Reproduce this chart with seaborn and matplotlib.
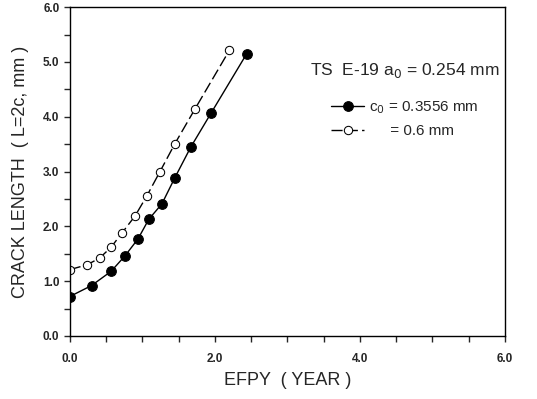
import pandas as pd
import seaborn as sns
import matplotlib.pyplot as plt
from matplotlib.ticker import MultipleLocator

# data
efpy_a = [0.0, 0.30, 0.57, 0.76, 0.94, 1.09, 1.27, 1.45, 1.67, 1.95, 2.44]
crack_a = [0.72, 0.92, 1.18, 1.46, 1.77, 2.13, 2.41, 2.89, 3.45, 4.07, 5.15]
efpy_b = [0.0, 0.24, 0.41, 0.57, 0.72, 0.90, 1.06, 1.24, 1.45, 1.73, 2.20]
crack_b = [1.21, 1.30, 1.42, 1.62, 1.88, 2.19, 2.55, 2.99, 3.51, 4.15, 5.21]
lab_a = "c$_0$ = 0.3556 mm"
lab_b = "     = 0.6 mm"

df_a = pd.DataFrame({'x': efpy_a, 'y': crack_a})
df_b = pd.DataFrame({'x': efpy_b, 'y': crack_b})

sns.set_style('ticks')
plt.rcParams['font.family'] = ['Liberation Sans', 'DejaVu Sans']

fig = plt.figure(figsize=(5.37, 3.99), dpi=100)
ax = fig.add_axes([0.130, 0.158, 0.810, 0.824])

sns.lineplot(data=df_a, x='x', y='y', ax=ax, color='black', lw=1.0,
             marker='o', markersize=7, markerfacecolor='black',
             markeredgecolor='black', label=lab_a)
sns.lineplot(data=df_b, x='x', y='y', ax=ax, color='black', lw=1.0,
             marker='o', markersize=6, markerfacecolor='white',
             markeredgecolor='black', label=lab_b)
ax.lines[1].set_dashes([8, 3])

ax.set_xlim(0, 6)
ax.set_ylim(0, 6)
ax.xaxis.set_major_locator(MultipleLocator(2))
ax.xaxis.set_minor_locator(MultipleLocator(0.5))
ax.yaxis.set_major_locator(MultipleLocator(1))
ax.yaxis.set_minor_locator(MultipleLocator(0.5))
ax.xaxis.set_major_formatter(lambda v, p: f"{v:.1f}")
ax.yaxis.set_major_formatter(lambda v, p: f"{v:.1f}")
ax.tick_params(which='both', direction='out', length=4, width=1, labelsize=8.5)
ax.tick_params(axis='x', pad=8)
for t in ax.get_xticklabels() + ax.get_yticklabels():
    t.set_fontweight('bold')
for s in ax.spines.values():
    s.set_visible(True)
    s.set_linewidth(1.0)
    s.set_color('black')

ax.set_xlabel('EFPY  ( YEAR )', fontsize=13, labelpad=5)
ax.set_ylabel('CRACK LENGTH  ( L=2c, mm )', fontsize=13, labelpad=10)

# title line of the key
ax.text(0.553, 0.807, 'TS  E-19 a$_0$ = 0.254 mm', transform=ax.transAxes,
        fontsize=12.5, ha='left', va='center')
leg = ax.legend(frameon=False, loc='upper left', bbox_to_anchor=(0.6, 0.72),
                borderaxespad=0, borderpad=0, fontsize=11, handlelength=2.2,
                handletextpad=0.3, labelspacing=0.55)

fig.savefig('out.png', dpi=100)
